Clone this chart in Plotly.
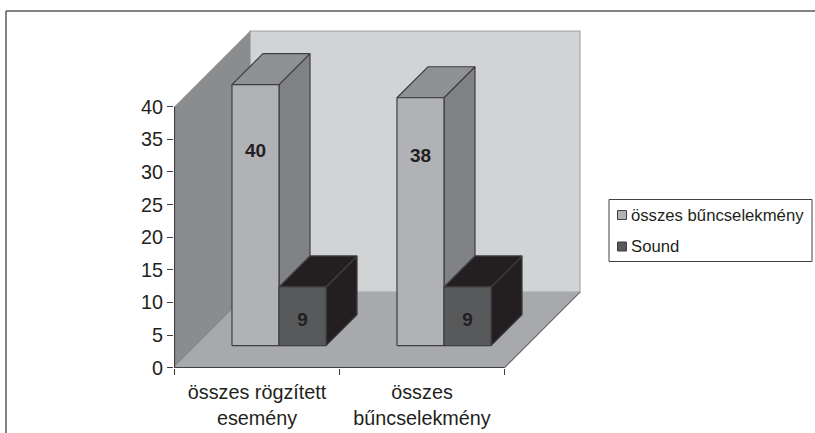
import plotly.graph_objects as go

categories = ["összes rögzített<br>esemény", "összes<br>bűncselekmény"]
series_names = ["összes bűncselekmény", "Sound"]
series_a = [40, 38]
series_b = [9, 9]
y_ticks = [0, 5, 10, 15, 20, 25, 30, 35, 40]

W, H = 815, 433
PX_L, PX_R, PX_T, PX_B = 174, 582, 30, 368
X0_PX, Y0_PX = 174.5, 367.7
PX_PER_CAT, PX_PER_Y = 165.0, 6.525

# 3-D projection, in axis units
WALL_DX = 75.5 / PX_PER_CAT
WALL_DY = 75.5 / PX_PER_Y
BAR_NEAR = 22 / 75.5
BAR_FAR = 53 / 75.5
GAP = 0.215
BAR_W = (1 - 2 * GAP) / 2

INK = "#3f3f42"
C_WALL_BACK, C_WALL_LEFT, C_FLOOR = "#d1d3d4", "#8a8c8e", "#a7a9ac"
C_A = dict(front="#b0b2b5", side="#808285", top="#8f9194")
C_B = dict(front="#58595b", side="#231f20", top="#231f20")
LABEL_Y_A = [29.7, 28.9]
LABEL_Y_B = [3.8, 3.8]

fig = go.Figure()

def poly(xs, ys, fill, line=None, name=""):
    fig.add_trace(go.Scatter(
        x=list(xs) + [xs[0]], y=list(ys) + [ys[0]], mode="lines", fill="toself",
        fillcolor=fill, line=dict(color=line or fill, width=1.2 if line else 0.5),
        hoverinfo="skip", showlegend=False, name=name, cliponaxis=False))

def seg(xs, ys, color, width=1.2):
    fig.add_trace(go.Scatter(x=xs, y=ys, mode="lines", line=dict(color=color, width=width),
                             hoverinfo="skip", showlegend=False, cliponaxis=False))

top = y_ticks[-1]
cats = len(categories)
poly([WALL_DX, cats + WALL_DX, cats + WALL_DX, WALL_DX],
     [WALL_DY, WALL_DY, top + WALL_DY, top + WALL_DY], C_WALL_BACK, "#a7a9ac", "back wall")
poly([0, WALL_DX, WALL_DX, 0], [0, WALL_DY, top + WALL_DY, top], C_WALL_LEFT, None, "side wall")
poly([0, cats, cats + WALL_DX, WALL_DX], [0, 0, WALL_DY, WALL_DY], C_FLOOR, None, "floor")
seg([0, 0], [0, top], INK)
seg([0, cats], [0, 0], INK)
seg([cats, cats + WALL_DX], [0, WALL_DY], "#6d6e71")

def box(x_left, value, col, name):
    nx, ny = BAR_NEAR * WALL_DX, BAR_NEAR * WALL_DY
    fx, fy = BAR_FAR * WALL_DX, BAR_FAR * WALL_DY
    a, b = x_left + nx, x_left + BAR_W + nx
    lo, hi = ny, value + ny
    rise_x, rise_y = fx - nx, fy - ny
    poly([b, b + rise_x, b + rise_x, b], [lo, lo + rise_y, hi + rise_y, hi], col["side"], INK, name)
    poly([a, a + rise_x, b + rise_x, b], [hi, hi + rise_y, hi + rise_y, hi], col["top"], INK, name)
    poly([a, b, b, a], [lo, lo, hi, hi], col["front"], INK, name)
    return (a + b) / 2, ny

lab_x, lab_y, lab_t = [], [], []
for i in range(cats):
    cx, base = box(i + GAP, series_a[i], C_A, series_names[0])
    lab_x.append(cx); lab_y.append(base + LABEL_Y_A[i]); lab_t.append(str(series_a[i]))
    cx, base = box(i + GAP + BAR_W, series_b[i], C_B, series_names[1])
    lab_x.append(cx); lab_y.append(base + LABEL_Y_B[i]); lab_t.append(str(series_b[i]))

fig.add_trace(go.Scatter(x=lab_x, y=lab_y, text=lab_t, mode="text", textposition="middle center",
                         textfont=dict(family="Liberation Sans", size=19, color="#231f20", weight="bold"),
                         hoverinfo="skip", showlegend=False, cliponaxis=False))

def px(x): return (x - PX_L) / (PX_R - PX_L)
def py(y): return (PX_B - y) / (PX_B - PX_T)

shapes = [
    dict(type="line", xref="paper", yref="paper", x0=px(6), x1=px(815), y0=py(11), y1=py(11),
         line=dict(color="#58595b", width=1.5)),
    dict(type="line", xref="paper", yref="paper", x0=px(6), x1=px(6), y0=py(11), y1=py(433),
         line=dict(color="#58595b", width=1.5)),
    dict(type="rect", xref="paper", yref="paper", x0=px(609), x1=px(812), y0=py(199.5), y1=py(261.5),
         line=dict(color="#414042", width=1), fillcolor="white"),
]
annotations = []
for name, col, yc in zip(series_names, [C_A["front"], C_B["front"]], [215, 246.5]):
    shapes.append(dict(type="rect", xref="paper", yref="paper", x0=px(617.5), x1=px(626.5),
                       y0=py(yc - 4.5), y1=py(yc + 4.5), fillcolor=col, line=dict(color=INK, width=1)))
    annotations.append(dict(text=name, xref="paper", yref="paper", x=px(630.5), y=py(yc),
                            xanchor="left", yanchor="middle", showarrow=False, xshift=-2,
                            font=dict(family="Liberation Sans", size=16.7, color="#231f20")))

fig.update_layout(
    width=W, height=H, autosize=False, showlegend=False, paper_bgcolor="white", plot_bgcolor="white",
    margin=dict(l=PX_L, r=W - PX_R, t=PX_T, b=H - PX_B, pad=0, autoexpand=False),
    font=dict(family="Liberation Sans", color="#231f20"),
    shapes=shapes, annotations=annotations,
    xaxis=dict(range=[(PX_L - X0_PX) / PX_PER_CAT, (PX_R - X0_PX) / PX_PER_CAT], automargin=False,
               tickmode="array", tickvals=[i + 0.5 for i in range(cats)], ticktext=categories,
               ticks="outside", ticklen=6, tickcolor="rgba(0,0,0,0)", showgrid=False, zeroline=False,
               showline=False, tickfont=dict(size=19.8),
               minor=dict(tickmode="array", tickvals=list(range(cats + 1)), ticks="outside",
                          ticklen=6, tickcolor=INK, tickwidth=1, showgrid=False)),
    yaxis=dict(range=[(Y0_PX - PX_B) / PX_PER_Y, (Y0_PX - PX_T) / PX_PER_Y], automargin=False,
               tickmode="array", tickvals=y_ticks, ticks="outside", ticklen=6, tickcolor=INK,
               showgrid=False, zeroline=False, showline=False, tickfont=dict(size=19.8)),
)
fig.write_html("out.html", config=dict(displayModeBar=False),
               post_script="document.body.style.margin='0';document.body.style.overflow='hidden';")
